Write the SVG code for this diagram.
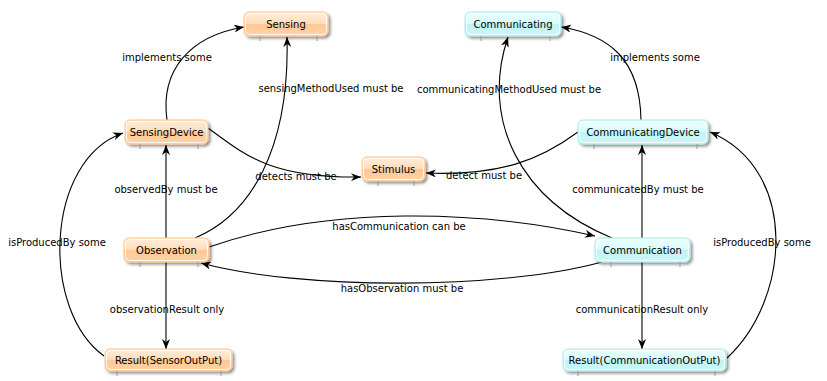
<svg xmlns="http://www.w3.org/2000/svg" width="827" height="381" viewBox="0 0 827 381">
  <defs>
    <linearGradient id="gOrange" x1="0" y1="0" x2="0" y2="1">
      <stop offset="0" stop-color="#ffeedd"/>
      <stop offset="0.5" stop-color="#ffdcb8"/>
      <stop offset="0.52" stop-color="#ffc896"/>
      <stop offset="1" stop-color="#ffd3a6"/>
    </linearGradient>
    <linearGradient id="gCyan" x1="0" y1="0" x2="0" y2="1">
      <stop offset="0" stop-color="#eaffff"/>
      <stop offset="0.5" stop-color="#d8fcfc"/>
      <stop offset="0.52" stop-color="#c0f4f4"/>
      <stop offset="1" stop-color="#cbf7f7"/>
    </linearGradient>
    <filter id="shadow" x="-10%" y="-20%" width="130%" height="160%">
      <feGaussianBlur in="SourceAlpha" stdDeviation="1.6"/>
      <feOffset dx="2" dy="2" result="b"/>
      <feComponentTransfer><feFuncA type="linear" slope="0.45"/></feComponentTransfer>
      <feMerge><feMergeNode/><feMergeNode in="SourceGraphic"/></feMerge>
    </filter>
    <marker id="arrow" viewBox="0 0 10 8" refX="10" refY="4" markerWidth="10" markerHeight="8" markerUnits="userSpaceOnUse" orient="auto">
      <path d="M0,0 L10,4 L0,8 L3,4 z" fill="#000"/>
    </marker>
    <style>
      .box-o { fill: url(#gOrange); stroke: #ffc48c; stroke-width: 1; filter: url(#shadow); }
      .box-c { fill: url(#gCyan); stroke: #a8eaea; stroke-width: 1; filter: url(#shadow); }
      .inner { fill: none; stroke: #ffffff; stroke-opacity: 0.8; stroke-width: 1; }
      .tick { stroke: #9a9a9a; stroke-width: 1; }
      .name { font-family: "DejaVu Sans", Verdana, sans-serif; font-size: 10px; fill: #000; text-anchor: middle; }
      .lbl { font-family: "DejaVu Sans", Verdana, sans-serif; font-size: 10px; fill: #000; text-anchor: middle; }
      .edge { fill: none; stroke: #000; stroke-width: 1.1; marker-end: url(#arrow); }
    </style>
  </defs>
  <rect width="827" height="381" fill="#ffffff"/>

  <!-- connectors -->
  <g id="connectors">
    <path class="edge" d="M167,120 C160,70 190,36 244,27"/>
    <path class="edge" d="M195,238 C250,215 290,150 287,37"/>
    <path class="edge" d="M208,128 C245,155 270,178 361,177"/>
    <path class="edge" d="M578,132 C540,160 500,176 426,173"/>
    <path class="edge" d="M612,238 C520,200 480,120 508,37"/>
    <path class="edge" d="M641,120 C640,60 610,35 561,27"/>
    <path class="edge" d="M166,238 L166,145"/>
    <path class="edge" d="M642,238 L642,145"/>
    <path class="edge" d="M209,247 C330,205 480,210 595,236"/>
    <path class="edge" d="M602,262 C500,290 300,290 201,263"/>
    <path class="edge" d="M166,262 L166,349"/>
    <path class="edge" d="M642,262 L642,349"/>
    <path class="edge" d="M104,356 C40,310 45,160 123,133"/>
    <path class="edge" d="M727,358 C790,300 800,170 710,132"/>

    <text class="lbl" x="167" y="61">implements some</text>
    <text class="lbl" x="331" y="92">sensingMethodUsed must be</text>
    <text class="lbl" x="509" y="93">communicatingMethodUsed must be</text>
    <text class="lbl" x="655" y="61">implements some</text>
    <text class="lbl" x="166" y="193">observedBy must be</text>
    <text class="lbl" x="296" y="180">detects must be</text>
    <text class="lbl" x="484" y="179">detect must be</text>
    <text class="lbl" x="638" y="193">communicatedBy must be</text>
    <text class="lbl" x="399" y="230">hasCommunication can be</text>
    <text class="lbl" x="402" y="292">hasObservation must be</text>
    <text class="lbl" x="57" y="246">isProducedBy some</text>
    <text class="lbl" x="762" y="246">isProducedBy some</text>
    <text class="lbl" x="167" y="313">observationResult only</text>
    <text class="lbl" x="642" y="313">communicationResult only</text>
  </g>

  <!-- nodes -->
  <g id="Sensing">
    <rect class="box-o" x="244" y="12" width="84" height="24" rx="5"/>
    <rect class="inner" x="245.5" y="13.5" width="81" height="21" rx="4"/>
    <line class="tick" x1="260" y1="36" x2="260" y2="41"/><line class="tick" x1="317" y1="36" x2="317" y2="41"/>
    <text class="name" x="286" y="28">Sensing</text>
  </g>
  <g id="Communicating">
    <rect class="box-c" x="465" y="12" width="96" height="24" rx="5"/>
    <rect class="inner" x="466.5" y="13.5" width="93" height="21" rx="4"/>
    <line class="tick" x1="481" y1="36" x2="481" y2="41"/><line class="tick" x1="550" y1="36" x2="550" y2="41"/>
    <text class="name" x="513" y="28">Communicating</text>
  </g>
  <g id="SensingDevice">
    <rect class="box-o" x="125" y="120" width="83" height="24" rx="5"/>
    <rect class="inner" x="126.5" y="121.5" width="80" height="21" rx="4"/>
    <line class="tick" x1="140" y1="144" x2="140" y2="149"/><line class="tick" x1="198" y1="144" x2="198" y2="149"/>
    <text class="name" x="166.5" y="136">SensingDevice</text>
  </g>
  <g id="CommunicatingDevice">
    <rect class="box-c" x="578" y="120" width="130" height="24" rx="5"/>
    <rect class="inner" x="579.5" y="121.5" width="127" height="21" rx="4"/>
    <line class="tick" x1="594" y1="144" x2="594" y2="149"/><line class="tick" x1="697" y1="144" x2="697" y2="149"/>
    <text class="name" x="643" y="136">CommunicatingDevice</text>
  </g>
  <g id="Stimulus">
    <rect class="box-o" x="362" y="157" width="63" height="24" rx="5"/>
    <rect class="inner" x="363.5" y="158.5" width="60" height="21" rx="4"/>
    <line class="tick" x1="378" y1="181" x2="378" y2="186"/><line class="tick" x1="414" y1="181" x2="414" y2="186"/>
    <text class="name" x="393.5" y="173">Stimulus</text>
  </g>
  <g id="Observation">
    <rect class="box-o" x="124" y="238" width="85" height="24" rx="5"/>
    <rect class="inner" x="125.5" y="239.5" width="82" height="21" rx="4"/>
    <line class="tick" x1="140" y1="262" x2="140" y2="267"/><line class="tick" x1="198" y1="262" x2="198" y2="267"/>
    <text class="name" x="166.5" y="254">Observation</text>
  </g>
  <g id="Communication">
    <rect class="box-c" x="595" y="238" width="95" height="24" rx="5"/>
    <rect class="inner" x="596.5" y="239.5" width="92" height="21" rx="4"/>
    <line class="tick" x1="611" y1="262" x2="611" y2="267"/><line class="tick" x1="680" y1="262" x2="680" y2="267"/>
    <text class="name" x="642.5" y="254">Communication</text>
  </g>
  <g id="ResultSensorOutPut">
    <rect class="box-o" x="105" y="349" width="127" height="22" rx="5"/>
    <rect class="inner" x="106.5" y="350.5" width="124" height="19" rx="4"/>
    <line class="tick" x1="117" y1="371" x2="117" y2="376"/><line class="tick" x1="221" y1="371" x2="221" y2="376"/>
    <text class="name" x="168.5" y="364">Result(SensorOutPut)</text>
  </g>
  <g id="ResultCommunicationOutPut">
    <rect class="box-c" x="563" y="349" width="163" height="22" rx="5"/>
    <rect class="inner" x="564.5" y="350.5" width="160" height="19" rx="4"/>
    <line class="tick" x1="578" y1="371" x2="578" y2="376"/><line class="tick" x1="715" y1="371" x2="715" y2="376"/>
    <text class="name" x="644.5" y="364">Result(CommunicationOutPut)</text>
  </g>
</svg>
